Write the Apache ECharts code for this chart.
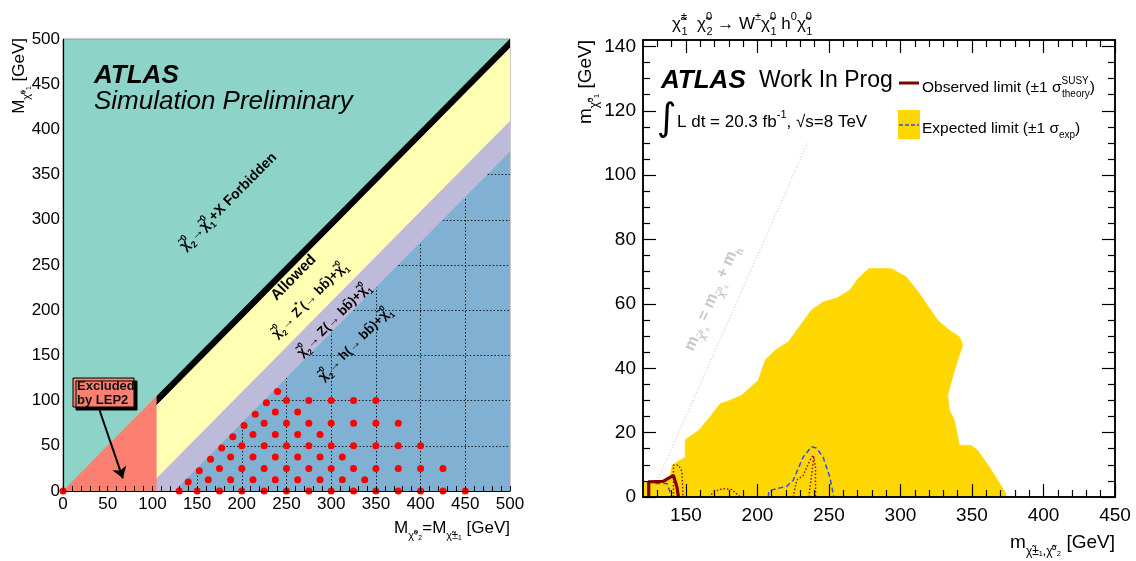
<!DOCTYPE html>
<html><head><meta charset="utf-8">
<script src="https://cdn.jsdelivr.net/npm/echarts@6/dist/echarts.min.js"></script>
<style>html,body{margin:0;padding:0;background:#fff}#c{width:1136px;height:561px}</style>
</head><body><div id="c"></div>
<script>
// ---------------- LEFT PANEL DATA (GeV) ----------------
const lep2Region   = [[0,0],[105,105],[105,0]];
const blackBand    = [[105,105],[500,500],[500,490],[105,95]];
const zStarBand    = [[105,95],[500,490],[500,409],[105,14]];
const zBand        = [[105,14],[500,409],[500,375],[125,0],[105,0]];
const hBand        = [[125,0],[500,375],[500,0]];
const higgsMass    = 125;
const gridXs = [150,200,250,300,350,400,450];
const gridYs = [50,100,150,200,250,300,350];
const signalPoints = [
  [0,0],[130,0],[150,0],[175,0],[200,0],[225,0],[250,0],[275,0],[300,0],[325,0],[350,0],[375,0],[400,0],[425,0],[450,0],
  [140,10],
  [162.5,12.5],[187.5,12.5],[212.5,12.5],[237.5,12.5],[262.5,12.5],[287.5,12.5],[312.5,12.5],[337.5,12.5],
  [152.5,22.5],
  [175,25],[200,25],[225,25],[250,25],[275,25],[300,25],[325,25],[350,25],[375,25],[400,25],[425,25],
  [165,35],
  [187.5,37.5],[212.5,37.5],[237.5,37.5],[262.5,37.5],[287.5,37.5],[312.5,37.5],
  [177.5,47.5],
  [200,50],[225,50],[250,50],[275,50],[300,50],[325,50],[350,50],[375,50],[400,50],
  [190,60],
  [212.5,62.5],[237.5,62.5],[262.5,62.5],[287.5,62.5],
  [202.5,72.5],
  [225,75],[250,75],[275,75],[300,75],[325,75],[350,75],[375,75],
  [215,85],
  [237.5,87.5],[262.5,87.5],
  [227.5,97.5],
  [250,100],[275,100],[300,100],[325,100],[350,100],
  [240,110]
];
const lepArrow = [[41,89],[67,14]];

// ---------------- RIGHT PANEL DATA (GeV) ----------------
const rightXMajor = [150,200,250,300,350,400,450];
const rightXMinor = [130,140,160,170,180,190,210,220,230,240,260,270,280,290,310,320,330,340,360,370,380,390,410,420,430,440];
const rightYMajor = [0,20,40,60,80,100,120,140];
const rightYMinor = [5,10,15,25,30,35,45,50,55,65,70,75,85,90,95,105,110,115,125,130,135];
const expectedBand = [
  [120,0],[120,4.7],[131,4.7],[139,6.5],[140.2,9.9],[149.5,12.4],[149.5,17.8],[158.8,20.7],[166.9,24.9],
  [173.9,29.0],[180.9,30.1],[189.0,31.6],[200.6,36.3],[205.3,42.5],[212.3,45.6],[221.5,48.2],[237.8,58.1],
  [245.9,60.6],[256.4,62.0],[264.6,64.3],[270.4,67.9],[278.0,71.0],[293.6,71.0],[304.1,68.4],[313.4,63.2],
  [326.1,54.9],[334.3,51.8],[341.3,49.8],[343.6,47.2],[337.8,39.4],[333.1,31.6],[334.3,27.0],[337.8,23.8],
  [341.3,16.1],[349.4,16.1],[354.0,14.5],[362.2,9.3],[373.8,1.1],[373.8,0]
];
const observedLimit = [[124,0],[124,4.7],[134.4,4.9],[141.3,6.7],[143.7,3.1],[144.8,0]];
const obsTheoryA = [[141.3,0],[141.3,9.9],[144.8,9.9],[147.2,8.0],[148,0]];
const obsTheoryB = [[166,0],[170,1.8],[176,2.6],[182,2.3],[188,0]];
const obsTheoryC = [[225,0],[227.4,5.2],[232,6.7],[236.7,11.4],[239,13.0],[240.6,9.3],[240.6,0]];
const obsTheoryD = [[236,0],[236.7,2.8],[238.8,10.1],[239.6,12.5]];
const expectedA = [[128.6,4.2],[136.7,4.2],[140.2,0]];
const expectedB = [[207.6,0],[208,1.9],[213.4,2.6],[220.4,3.3],[225,5.2],[232,12.4],[237.8,15.6],[241.3,15.2],[245.9,12.4],[250.6,6.2],[253.4,0]];
const kinematicLine = [[125,0],[235,110]];

// ---------------- STYLES ----------------
const FF = '"Liberation Sans", Arial, Helvetica, sans-serif';
const C = {teal:'#8DD3C7', yellow:'#FFFFB3', lav:'#BEBADA', blue:'#80B1D3', salmon:'#FB8072',
           gold:'#FFD700', obs:'#800000', exp:'#3050E0', dot:'#A01010'};

function richSet(size, weight, color, style) {
  const base = {fontFamily:FF, fontWeight:weight||'normal', fontStyle:style||'normal', fill:color||'#000'};
  const s = Math.round(size*0.62);
  return {
    n: Object.assign({}, base, {fontSize:size, lineHeight:Math.round(size*1.5)}),
    p: Object.assign({}, base, {fontSize:s, lineHeight:s+1, verticalAlign:'top', width:0.5}),
    P: Object.assign({}, base, {fontSize:s, lineHeight:s+1, verticalAlign:'top'}),
    b: Object.assign({}, base, {fontSize:s, lineHeight:s+1, verticalAlign:'bottom'})
  };
}

function polySeries(poly, color, xi, yi, z) {
  return {type:'custom', xAxisIndex:xi, yAxisIndex:yi, z:z, silent:true, clip:true,
    data: poly, encode:{x:0, y:1},
    renderItem: function(params, api) {
      if (params.dataIndex !== 0) return null;
      return {type:'polygon', shape:{points: poly.map(function(p){return api.coord(p);})},
              style:{fill:color, stroke:color, lineWidth:0.5}};
    }};
}
function lineSeries(data, color, width, type, z) {
  return {type:'line', xAxisIndex:1, yAxisIndex:1, data:data, symbol:'none', showSymbol:false,
          z:z, silent:true, clip:true, lineStyle:{color:color, width:width, type:type}};
}
function rxAxis(pos, ticks, len, labels) {
  return {type:'value', gridIndex:1, position:pos, min:120, max:450, z:10,
    axisLine:{show:true, onZero:false, lineStyle:{color:'#000', width:1.5}},
    axisTick:{show:true, inside:true, length:len, customValues:ticks, lineStyle:{color:'#000', width:1.2}},
    axisLabel: labels ? {show:true, customValues:labels, fontSize:19, color:'#000', fontFamily:FF, margin:9} : {show:false},
    splitLine:{show:false}};
}
function ryAxis(pos, ticks, len, labels) {
  return {type:'value', gridIndex:1, position:pos, min:0, max:142, z:10,
    axisLine:{show:true, onZero:false, lineStyle:{color:'#000', width:1.5}},
    axisTick:{show:true, inside:true, length:len, customValues:ticks, lineStyle:{color:'#000', width:1.2}},
    axisLabel: labels ? {show:true, customValues:labels, fontSize:19, color:'#000', fontFamily:FF, margin:7} : {show:false},
    splitLine:{show:false}};
}

const gridLineData = gridXs.map(function(v){return {coords:[[v,0],[v,Math.min(v-higgsMass,500)]]};})
  .concat(gridYs.map(function(h){return {coords:[[h+higgsMass,h],[500,h]]};}));

const option = {
  animation:false,
  backgroundColor:'#fff',
  grid:[
    {left:63, top:39, width:447, height:452, show:true, backgroundColor:C.teal, borderColor:'#999', borderWidth:1, outerBoundsMode:'none', containLabel:false},
    {left:643, top:40, right:21, bottom:64, show:false, outerBoundsMode:'none', containLabel:false}
  ],
  xAxis:[
    {type:'value', gridIndex:0, min:0, max:500, interval:50, z:10,
     axisLine:{show:true, onZero:false, lineStyle:{color:'#000', width:1.2}},
     axisTick:{show:true, inside:true, length:5, lineStyle:{color:'#000'}},
     minorTick:{show:true, splitNumber:5, length:5, lineStyle:{color:'#000'}},
     axisLabel:{fontSize:17, color:'#000', fontFamily:FF, margin:5},
     splitLine:{show:false}},
    rxAxis('bottom', rightXMajor, 13, rightXMajor),
    rxAxis('bottom', rightXMinor, 7, null),
    rxAxis('top', rightXMajor, 13, null),
    rxAxis('top', rightXMinor, 7, null)
  ],
  yAxis:[
    {type:'value', gridIndex:0, min:0, max:500, interval:50, z:10,
     axisLine:{show:true, onZero:false, lineStyle:{color:'#000', width:1.2}},
     axisTick:{show:false},
     axisLabel:{fontSize:17, color:'#000', fontFamily:FF, margin:3},
     splitLine:{show:false}},
    ryAxis('left', rightYMajor, 13, rightYMajor),
    ryAxis('left', rightYMinor, 7, null),
    ryAxis('right', rightYMajor, 13, null),
    ryAxis('right', rightYMinor, 7, null)
  ],
  series:[
    polySeries(lep2Region, C.salmon, 0, 0, 2),
    polySeries(blackBand, '#000', 0, 0, 2),
    polySeries(zStarBand, C.yellow, 0, 0, 2),
    polySeries(zBand, C.lav, 0, 0, 2),
    polySeries(hBand, C.blue, 0, 0, 2),
    {type:'lines', coordinateSystem:'cartesian2d', xAxisIndex:0, yAxisIndex:0, z:3, silent:true,
     data:gridLineData, lineStyle:{color:'#000', width:1, type:[1.5,2], opacity:0.85}},
    {type:'scatter', xAxisIndex:0, yAxisIndex:0, z:4, silent:true, data:signalPoints,
     symbol:'circle', symbolSize:7, itemStyle:{color:'#FF0000', opacity:1}},
    {type:'lines', coordinateSystem:'cartesian2d', xAxisIndex:0, yAxisIndex:0, z:6, silent:true,
     data:[{coords:lepArrow}], symbol:['none','arrow'], symbolSize:11,
     lineStyle:{color:'#000', width:2, opacity:1}},
    // right panel
    polySeries(expectedBand, C.gold, 1, 1, 2),
    lineSeries(kinematicLine, '#C0C0C0', 1, [1,2], 3),
    lineSeries(expectedA, C.exp, 1.5, [5,3], 4),
    lineSeries(expectedB, C.exp, 1.5, [5,3], 4),
    lineSeries(obsTheoryA, C.dot, 1.5, [1.5,2], 4),
    lineSeries(obsTheoryB, C.dot, 1.5, [1.5,2], 4),
    lineSeries(obsTheoryC, C.dot, 1.5, [1.5,2], 4),
    lineSeries(obsTheoryD, C.dot, 1.5, [1.5,2], 4),
    lineSeries(observedLimit, C.obs, 3.2, 'solid', 5)
  ]
};

const chart = echarts.init(document.getElementById('c'));
chart.setOption(option);

function px(g, p) { return chart.convertToPixel({gridIndex:g}, p); }
const d0 = px(0,[0,0]), d1 = px(0,[500,500]);
const diagRot = Math.atan2(d0[1]-d1[1], d1[0]-d0[0]);
const k0 = px(1, kinematicLine[0]), k1 = px(1, kinematicLine[1]);
const kinRot = Math.atan2(k0[1]-k1[1], k1[0]-k0[0]);

function rtext(pos, text, rich, rot, align, va, z) {
  return {type:'text', x:pos[0], y:pos[1], rotation:rot||0, z:z||100,
          style:{text:text, rich:rich, align:align||'center', verticalAlign:va||'middle'}};
}
const chi = 'χ\u0303';
const bb = 'bb\u0304';
const r14b = richSet(14,'bold'), r13b = richSet(13,'bold'), r15b = richSet(15,'bold');

const graphics = [
  // left panel texts
  {type:'text', x:94, y:76, z:100, style:{text:'ATLAS', font:'italic bold 26px '+FF, fill:'#000', verticalAlign:'middle'}},
  {type:'text', x:94, y:102, z:100, style:{text:'Simulation Preliminary', font:'italic 26px '+FF, fill:'#000', verticalAlign:'middle'}},
  rtext(px(0,[185,320]), '{n|'+chi+'}{p|0}{b|2}{n|→'+chi+'}{p|0}{b|1}{n|+X Forbidden}', r14b, diagRot),
  rtext(px(0,[258,236]), '{n|Allowed}', r15b, diagRot),
  rtext(px(0,[276,211]), '{n|'+chi+'}{p|0}{b|2}{n|→ Z}{P|*}{n|(→ '+bb+')+'+chi+'}{p|0}{b|1}', r13b, diagRot),
  rtext(px(0,[303,189]), '{n|'+chi+'}{p|0}{b|2}{n|→ Z(→ '+bb+')+'+chi+'}{p|0}{b|1}', r13b, diagRot),
  rtext(px(0,[327,162.5]), '{n|'+chi+'}{p|0}{b|2}{n|→ h(→ '+bb+')+'+chi+'}{p|0}{b|1}', r13b, diagRot),
  {type:'rect', z:100, shape:{x:73, y:378, width:61, height:29},
   style:{fill:C.salmon, stroke:'#000', lineWidth:1, shadowColor:'#000', shadowOffsetX:3, shadowOffsetY:3, shadowBlur:0}},
  {type:'text', x:77, y:379, z:101, style:{text:'Excluded\nby LEP2', font:'bold 13px '+FF, fill:'#111', lineHeight:14, verticalAlign:'top'}},
  rtext([19,38], '{n|M}{b|'+chi+'⁰₁}{n| [GeV]}', richSet(17,'normal'), Math.PI/2, 'right'),
  rtext([510,528], '{n|M}{b|'+chi+'⁰₂}{n|=M}{b|'+chi+'±₁}{n| [GeV]}', richSet(17,'normal'), 0, 'right'),
  // right panel texts
  rtext([672,24], '{n|'+chi+'}{p|±}{b|1}{n|  '+chi+'}{p|0}{b|2}{n| → W}{P|±}{n|'+chi+'}{p|0}{b|1}{n| h}{P|0}{n|'+chi+'}{p|0}{b|1}', richSet(17,'normal'), 0, 'left'),
  {type:'text', x:661, y:81, z:100, style:{text:'ATLAS', font:'italic bold 26px '+FF, fill:'#000', verticalAlign:'middle'}},
  {type:'text', x:759, y:81, z:100, style:{text:'Work In Prog', font:'23px '+FF, fill:'#000', verticalAlign:'middle'}},
  {type:'text', x:657, y:120, z:100, style:{text:'∫', font:'38px "DejaVu Sans", sans-serif', fill:'#000', verticalAlign:'middle'}},
  rtext([677,122], '{n|L dt = 20.3 fb}{P|-1}{n|, √s=8 TeV}', richSet(17,'normal'), 0, 'left'),
  {type:'line', z:100, shape:{x1:899, y1:83, x2:919, y2:83}, style:{stroke:C.obs, lineWidth:3}},
  rtext([922,88], '{n|Observed limit (±1 σ}{p|SUSY}{b|theory}{n|)}', richSet(15.5,'normal'), 0, 'left'),
  {type:'rect', z:100, shape:{x:898, y:110, width:22, height:29}, style:{fill:C.gold}},
  {type:'line', z:101, shape:{x1:899, y1:125, x2:919, y2:125}, style:{stroke:C.exp, lineWidth:1.5, lineDash:[4,2]}},
  rtext([922,129], '{n|Expected limit (±1 σ}{b|exp}{n|)}', richSet(15.5,'normal'), 0, 'left'),
  rtext(px(1,[168.3,61.8]), '{n|m}{b|'+chi+'⁰₂}{n| = m}{b|'+chi+'⁰₁}{n| + m}{b|h}', richSet(16,'bold','#C8C8C8'), kinRot),
  rtext([586,40], '{n|m}{b|'+chi+'⁰₁}{n| [GeV]}', richSet(19,'normal'), Math.PI/2, 'right'),
  rtext([1115,543], '{n|m}{b|'+chi+'±₁,'+chi+'⁰₂}{n| [GeV]}', richSet(19,'normal'), 0, 'right')
];
chart.setOption({graphic: graphics});
</script>
</body></html>
